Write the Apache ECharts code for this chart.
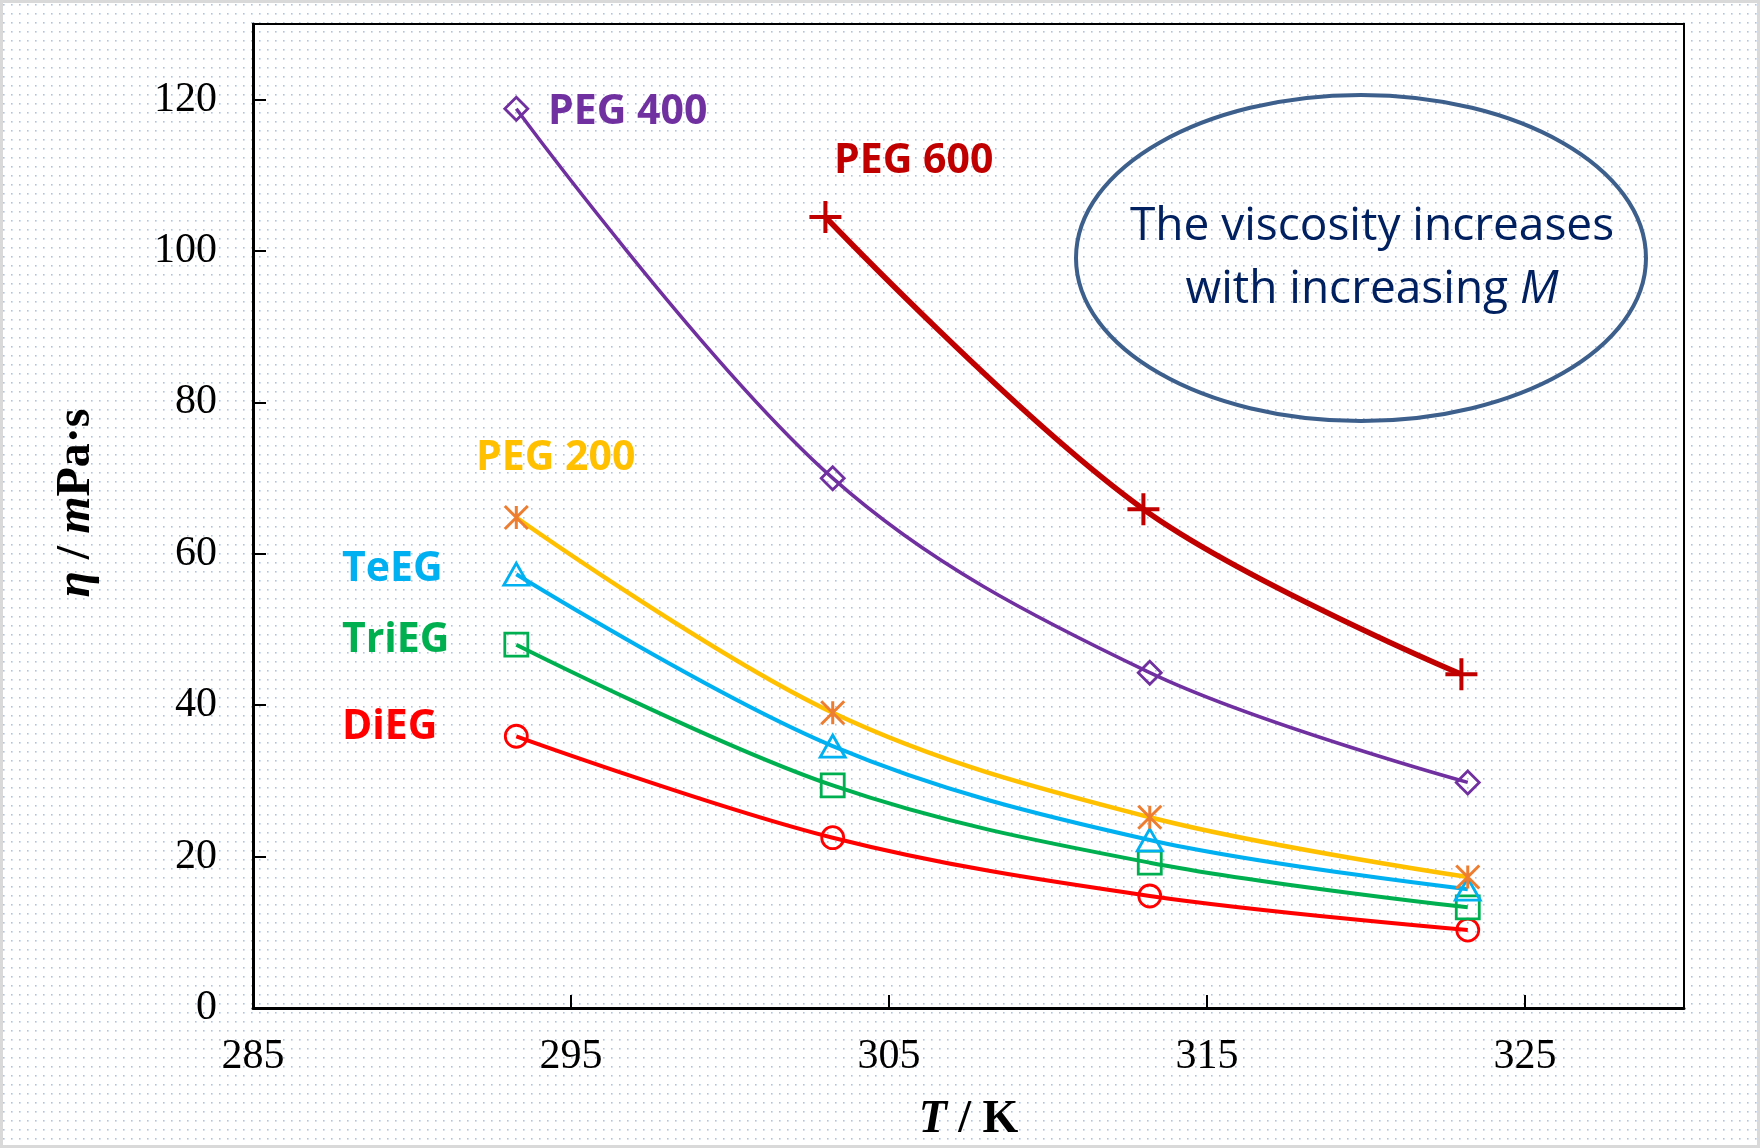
<!DOCTYPE html>
<html>
<head>
<meta charset="utf-8">
<script src="https://cdn.jsdelivr.net/npm/echarts@6/dist/echarts.min.js"></script>
<style>
  html, body { margin: 0; padding: 0; background: #ffffff; }
  #chart { width: 1760px; height: 1148px; }
</style>
</head>
<body>
<div id="chart"></div>
<script>
// ---- data ----
const temps = [293.28, 303.23, 313.2, 323.2];
const temps600 = [303.0, 313.0, 323.0];
const peg400 = [118.8, 70.0, 44.3, 29.8];
const peg600 = [104.5, 65.9, 44.1];
const peg200 = [64.8, 39.0, 25.2, 17.3];
const teEG = [57.3, 34.6, 22.2, 15.7];
const triEG = [48.0, 29.4, 19.2, 13.3];
const diEG = [35.9, 22.5, 14.8, 10.3];
const xTicks = { min: 285, max: 330, step: 10 };
const yTicks = { min: 0, max: 130, step: 20 };

function pairs(xs, ys) { return xs.map((x, i) => [x, ys[i]]); }

const chart = echarts.init(document.getElementById('chart'), null, { renderer: 'canvas' });

// dotted paper background pattern
const pat = document.createElement('canvas');
pat.width = 8; pat.height = 9;
const pctx = pat.getContext('2d');
pctx.fillStyle = 'rgba(150,175,220,0.75)';
pctx.fillRect(3, 4, 1.6, 1.6);

const PLUS = 'path://M0,5L10,5M5,0L5,10';
const STAR = 'path://M0,0L10,10M0,10L10,0M5,0L5,10';

function mk(name, xs, ys, lineColor, lineWidth, symbol, size, markColor, markWidth) {
  return {
    name: name,
    type: 'line',
    data: pairs(xs, ys),
    smooth: 0.35,
    showSymbol: true,
    symbol: symbol,
    symbolSize: size,
    lineStyle: { color: lineColor, width: lineWidth },
    itemStyle: { color: 'none', borderColor: markColor, borderWidth: markWidth },
    emphasis: { disabled: true },
    z: 3
  };
}

const serif = 'Liberation Serif';
const labelFont = { fontFamily: 'Open Sans', fontWeight: 'bold', fontSize: 41, align: 'left', verticalAlign: 'middle' };
const option = {
  animation: false,
  backgroundColor: '#ffffff',
  grid: {
    left: 253, right: 76, top: 24, bottom: 140,
    show: true, borderColor: '#000', borderWidth: 2,
    backgroundColor: 'transparent',
    containLabel: false,
    outerBoundsMode: 'none'
  },
  xAxis: {
    type: 'value',
    min: xTicks.min, max: xTicks.max, interval: xTicks.step,
    axisLine: { show: true, onZero: false, lineStyle: { color: '#000', width: 3 } },
    axisTick: { show: true, inside: true, length: 13, lineStyle: { color: '#000', width: 2 } },
    axisLabel: { fontFamily: serif, fontSize: 42, color: '#000', margin: 28, showMaxLabel: false },
    splitLine: { show: false },
    name: '{i|T} / K',
    nameLocation: 'middle',
    nameGap: 89,
    nameTextStyle: {
      fontFamily: serif, fontSize: 46, fontWeight: 'bold', color: '#000',
      rich: { i: { fontFamily: serif, fontSize: 46, fontWeight: 'bold', fontStyle: 'italic', color: '#000' } }
    }
  },
  yAxis: {
    type: 'value',
    min: yTicks.min, max: yTicks.max, interval: yTicks.step,
    axisLine: { show: true, onZero: false, lineStyle: { color: '#000', width: 3 } },
    axisTick: { show: true, inside: true, length: 13, lineStyle: { color: '#000', width: 2 } },
    axisLabel: { fontFamily: serif, fontSize: 42, color: '#000', margin: 36, showMaxLabel: false },
    splitLine: { show: false },
    name: '{i|η} / {i|m}Pa·s',
    nameLocation: 'middle',
    nameGap: 152,
    nameTextStyle: {
      fontFamily: serif, fontSize: 48, fontWeight: 'bold', color: '#000',
      padding: [0, 0, 0, 26],
      rich: { i: { fontFamily: serif, fontSize: 48, fontWeight: 'bold', fontStyle: 'italic', color: '#000' } }
    }
  },
  series: [
    mk('DiEG', temps, diEG, '#FF0000', 4, 'circle', 22, '#FF0000', 2.8),
    mk('TriEG', temps, triEG, '#00B050', 4, 'rect', 23, '#00B050', 2.8),
    mk('TeEG', temps, teEG, '#00B0F0', 4, 'triangle', [25, 22], '#00B0F0', 2.8),
    mk('PEG 200', temps, peg200, '#FFC000', 4.5, STAR, 23, '#ED7D31', 3),
    mk('PEG 400', temps, peg400, '#7030A0', 3.5, 'diamond', 23, '#7030A0', 2.8),
    mk('PEG 600', temps600, peg600, '#C00000', 5.5, PLUS, 32, '#C00000', 4)
  ],
  graphic: [
    { type: 'rect', z: -100, silent: true, shape: { x: 0, y: 0, width: 1760, height: 1148 },
      style: { fill: { image: pat, repeat: 'repeat' } } },
    { type: 'rect', z: 100, silent: true, shape: { x: 1.5, y: 1.5, width: 1757, height: 1145 },
      style: { fill: 'none', stroke: '#d9d9d9', lineWidth: 3 } },
    { type: 'text', x: 548, y: 112, z: 50, style: Object.assign({ text: 'PEG 400', fill: '#7030A0' }, labelFont) },
    { type: 'text', x: 834, y: 161, z: 50, style: Object.assign({ text: 'PEG 600', fill: '#C00000' }, labelFont) },
    { type: 'text', x: 476, y: 458, z: 50, style: Object.assign({ text: 'PEG 200', fill: '#FFC000' }, labelFont) },
    { type: 'text', x: 342, y: 569, z: 50, style: Object.assign({ text: 'TeEG', fill: '#00B0F0' }, labelFont) },
    { type: 'text', x: 342, y: 640, z: 50, style: Object.assign({ text: 'TriEG', fill: '#00B050' }, labelFont) },
    { type: 'text', x: 342, y: 727, z: 50, style: Object.assign({ text: 'DiEG', fill: '#FF0000' }, labelFont) },
    { type: 'ellipse', z: 50, silent: true, shape: { cx: 1361, cy: 258, rx: 285, ry: 163 },
      style: { fill: 'none', stroke: '#3C5F8C', lineWidth: 4 } },
    { type: 'text', x: 1372, y: 258, z: 51, style: {
        text: 'The viscosity increases\nwith increasing {i|M}',
        fill: '#002060', fontFamily: 'Open Sans', fontSize: 46, lineHeight: 63,
        align: 'center', verticalAlign: 'middle',
        rich: { i: { fill: '#002060', fontFamily: 'Open Sans', fontSize: 46, fontStyle: 'italic', lineHeight: 63 } }
      } }
  ]
};
chart.setOption(option);
</script>
</body>
</html>
